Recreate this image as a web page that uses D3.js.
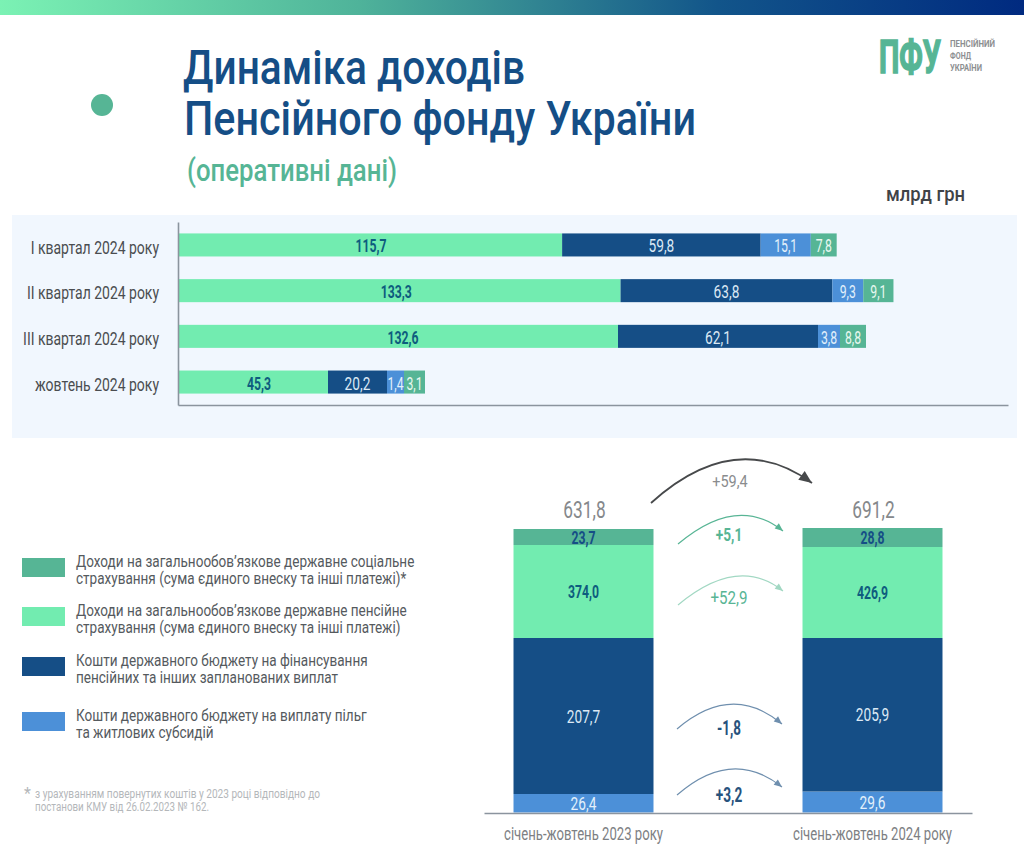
<!DOCTYPE html>
<html>
<head>
<meta charset="utf-8">
<script src="https://cdn.jsdelivr.net/npm/d3@7"></script>
<style>
  html, body { margin: 0; padding: 0; background: #fff; }
  svg { display: block; }
  text { font-family: "Roboto", sans-serif; }
  .domain { stroke: #8b949e; stroke-width: 1.6; }
</style>
</head>
<body>
<div id="chart"></div>
<script>
// values, bln UAH
var periods = ["I квартал 2024 року", "II квартал 2024 року", "III квартал 2024 року", "жовтень 2024 року"];
var periodPension = [115.7, 133.3, 132.6, 45.3];
var periodBudget = [59.8, 63.8, 62.1, 20.2];
var periodBenefits = [15.1, 9.3, 3.8, 1.4];
var periodSocial = [7.8, 9.1, 8.8, 3.1];

var columns = ["січень-жовтень 2023 року", "січень-жовтень 2024 року"];
var columnBenefits = [26.4, 29.6];
var columnBudget = [207.7, 205.9];
var columnPension = [374.0, 426.9];
var columnSocial = [23.7, 28.8];
var columnTotals = [631.8, 691.2];

var deltas = [59.4, 5.1, 52.9, -1.8, 3.2];

var legendLabels = [
  ["Доходи на загальнообов’язкове державне соціальне", "страхування (сума єдиного внеску та інші платежі)*"],
  ["Доходи на загальнообов’язкове державне пенсійне", "страхування (сума єдиного внеску та інші платежі)"],
  ["Кошти державного бюджету на фінансування", "пенсійних та інших запланованих виплат"],
  ["Кошти державного бюджету на виплату пільг", "та житлових субсидій"]
];

var colors = { pension: "#72ecb0", budget: "#154e86", benefits: "#4c90d8", social: "#56b595" };
var labelColors = { pension: "#0e5c7e", budget: "#dbe9f5", benefits: "#e3f0fb", social: "#e8f8f0" };

// the source does not draw these to scale: row 3 and 4 have widened small
// segments, the two columns are schematic. Breaks are the drawn segment edges.
var rowBreaks = [null, null, [178, 618, 818, 840, 866], [178, 328, 387, 404, 425]];
var columnBreaks = [[812.5, 794, 638, 545, 529], [812.5, 791.5, 638, 547, 528]];
var pensionLabelNudge = [1, -3, 5, 6];

var width = 1024, height = 858;
var fmt = d3.formatLocale({ decimal: ",", thousands: " ", grouping: [3], currency: ["", ""], minus: "-" });
var fmtValue = fmt.format(".1f"), fmtDelta = fmt.format("+.1f");

var svg = d3.select("#chart").append("svg").attr("width", width).attr("height", height);
var defs = svg.append("defs");

var grad = defs.append("linearGradient").attr("id", "topbar");
[["0%", "#7bf2b4"], ["35%", "#4fb39a"], ["70%", "#12558a"], ["100%", "#002a80"]].forEach(function (s) {
  grad.append("stop").attr("offset", s[0]).attr("stop-color", s[1]);
});
svg.append("rect").attr("width", width).attr("height", 15).attr("fill", "url(#topbar)");

// header
svg.append("circle").attr("cx", 102).attr("cy", 105).attr("r", 11).attr("fill", colors.social);

// the original face is condensed and no installed one is, so squeeze the glyphs
function condense(sel, k) {
  return sel.each(function () {
    d3.select(this).attr("textLength", this.getComputedTextLength() * (typeof k == "function" ? k.apply(this, arguments) : k))
      .attr("lengthAdjust", "spacingAndGlyphs");
  });
}
function fitText(sel, w) {
  return sel.attr("textLength", w).attr("lengthAdjust", "spacingAndGlyphs");
}
function title(txt, x, y, size, w, color, weight) {
  return fitText(svg.append("text").attr("x", x).attr("y", y).attr("font-size", size)
    .attr("font-weight", weight).attr("fill", color).text(txt), w);
}
// logo text goes through a transform so its box really ends at the drawn width
function logoText(txt, x, y, size, w, color) {
  var t = svg.append("text").attr("font-size", size).attr("font-weight", 700).attr("fill", color).text(txt);
  t.attr("transform", "translate(" + x + "," + y + ") scale(" + (w / t.node().getComputedTextLength()) + ",1)");
  return t;
}
title("Динаміка доходів", 183, 84, 48, 342, colors.budget, 500);
title("Пенсійного фонду України", 184, 135, 48, 512, colors.budget, 500);
title("(оперативні дані)", 187, 181, 31, 210, colors.social, 500);
title("млрд грн", 886, 201, 20, 79, "#3f4347", 500);

logoText("ПФУ", 879, 73, 46, 62, colors.social).attr("stroke", colors.social).attr("stroke-width", 1.6);
logoText("ПЕНСІЙНИЙ", 950, 47, 9, 45, "#8d8f91");
logoText("ФОНД", 950, 59, 9, 21, "#8d8f91");
logoText("УКРАЇНИ", 950, 71, 9, 32, "#8d8f91");

// horizontal stacked bars
svg.append("rect").attr("x", 12).attr("y", 215).attr("width", 1005).attr("height", 223).attr("fill", "#f1f7fe");

var keys = ["pension", "budget", "benefits", "social"];
var periodRows = periods.map(function (p, i) {
  return { period: p, pension: periodPension[i], budget: periodBudget[i], benefits: periodBenefits[i], social: periodSocial[i] };
});
var x = d3.scaleLinear().domain([0, 250]).range([178, 1008]);
var y = d3.scaleBand().domain(periods).range([222, 405]).paddingInner(0.496).paddingOuter(0.25);

function rowScale(i) {
  if (!rowBreaks[i]) return x;
  var r = periodRows[i], sum = 0, dom = [0];
  keys.forEach(function (k) { sum += r[k]; dom.push(sum); });
  return d3.scaleLinear().domain(dom).range(rowBreaks[i]);
}

var hStack = d3.stack().keys(keys)(periodRows);
var hLayer = svg.append("g").selectAll("g").data(hStack).enter().append("g");
hLayer.selectAll("rect").data(function (s) { return s.map(function (d, i) { return { d: d, i: i, key: s.key }; }); })
  .enter().append("rect")
  .attr("x", function (e) { return rowScale(e.i)(e.d[0]); })
  .attr("width", function (e) { return rowScale(e.i)(e.d[1]) - rowScale(e.i)(e.d[0]); })
  .attr("y", function (e) { return y(periods[e.i]); })
  .attr("height", y.bandwidth())
  .attr("fill", function (e) { return colors[e.key]; });
hLayer.selectAll("text").data(function (s) { return s.map(function (d, i) { return { d: d, i: i, key: s.key }; }); })
  .enter().append("text")
  .attr("x", function (e) {
    var mid = (rowScale(e.i)(e.d[0]) + rowScale(e.i)(e.d[1])) / 2;
    return e.key == "pension" ? mid + pensionLabelNudge[e.i] : mid;
  })
  .attr("y", function (e) { return y(periods[e.i]) + y.bandwidth() / 2 + 7.5; })
  .attr("text-anchor", "middle")
  .attr("font-size", 18)
  .attr("font-weight", function (e) { return e.key == "pension" ? 700 : 400; })
  .attr("fill", function (e) { return labelColors[e.key]; })
  .text(function (e) { return fmtValue(e.d[1] - e.d[0]); })
  .call(condense, function (e) { return e.key == "budget" ? 0.76 : 0.68; });

var yAxis = svg.append("g").attr("transform", "translate(178,0)")
  .call(d3.axisLeft(y).tickSize(0).tickPadding(19).tickSizeOuter(0));
yAxis.selectAll("text").attr("font-size", 18).attr("fill", "#4a4d50").attr("dy", ".48em").call(condense, 0.776);
svg.append("g").attr("transform", "translate(0,405)")
  .call(d3.axisBottom(x).tickValues([]).tickSizeOuter(0));

// legend
var legendY = [558, 607, 657, 712];
var legendKeys = ["social", "pension", "budget", "benefits"];
var legend = svg.append("g").selectAll("g").data(legendKeys).enter().append("g")
  .attr("transform", function (k, i) { return "translate(22," + legendY[i] + ")"; });
legend.append("rect").attr("width", 43).attr("height", 19).attr("fill", function (k) { return colors[k]; });
legend.each(function (k, i) {
  d3.select(this).selectAll("text").data(legendLabels[i]).enter().append("text")
    .attr("x", 54).attr("y", function (t, j) { return 9 + j * 17; })
    .attr("font-size", 16.5).attr("fill", "#555a5e").text(function (t) { return t; })
    .call(condense, 0.82);
});

// footnote
svg.append("text").attr("x", 24).attr("y", 799).attr("font-size", 16).attr("fill", "#b4b7ba").text("*");
title("з урахуванням повернутих коштів у 2023 році відповідно до", 35, 798, 12.5, 285, "#b4b7ba", 400);
title("постанови КМУ від 26.02.2023 № 162.", 35, 811, 12.5, 174, "#b4b7ba", 400);

// two columns
var stackKeys = ["benefits", "budget", "pension", "social"];
var columnRows = columns.map(function (c, i) {
  return { column: c, benefits: columnBenefits[i], budget: columnBudget[i], pension: columnPension[i], social: columnSocial[i] };
});
var cx = d3.scaleBand().domain(columns).range([484, 972]).paddingInner(0.5156).paddingOuter(0.1021);
var columnY = columnRows.map(function (r, i) {
  var sum = 0, dom = [0];
  stackKeys.forEach(function (k) { sum += r[k]; dom.push(sum); });
  return d3.scaleLinear().domain(dom).range(columnBreaks[i]);
});

var vStack = d3.stack().keys(stackKeys)(columnRows);
var vLayer = svg.append("g").selectAll("g").data(vStack).enter().append("g");
vLayer.selectAll("rect").data(function (s) { return s.map(function (d, i) { return { d: d, i: i, key: s.key }; }); })
  .enter().append("rect")
  .attr("x", function (e) { return cx(columns[e.i]); })
  .attr("width", cx.bandwidth())
  .attr("y", function (e) { return columnY[e.i](e.d[1]); })
  .attr("height", function (e) { return columnY[e.i](e.d[0]) - columnY[e.i](e.d[1]); })
  .attr("fill", function (e) { return colors[e.key]; });
vLayer.selectAll("text").data(function (s) { return s.map(function (d, i) { return { d: d, i: i, key: s.key }; }); })
  .enter().append("text")
  .attr("x", function (e) { return cx(columns[e.i]) + cx.bandwidth() / 2; })
  .attr("y", function (e) { return (columnY[e.i](e.d[0]) + columnY[e.i](e.d[1])) / 2 + 6.5; })
  .attr("text-anchor", "middle")
  .attr("font-size", 18)
  .attr("font-weight", function (e) { return e.key == "pension" || e.key == "social" ? 700 : 400; })
  .attr("fill", function (e) { return e.key == "social" ? colors.budget : labelColors[e.key]; })
  .text(function (e) { return fmtValue(e.d[1] - e.d[0]); })
  .call(condense, function (e) { return e.key == "pension" || e.key == "social" ? 0.68 : 0.76; });

svg.append("g").selectAll("text").data(columnTotals).enter().append("text")
  .attr("x", function (t, i) { return cx(columns[i]) + cx.bandwidth() / 2 + 1; })
  .attr("y", 518).attr("text-anchor", "middle").attr("font-size", 24).attr("fill", "#85888b")
  .text(function (t) { return fmtValue(t); })
  .call(condense, 0.72);

var cAxis = svg.append("g").attr("transform", "translate(0,813)")
  .call(d3.axisBottom(cx).tickSize(0).tickPadding(15).tickSizeOuter(0));
cAxis.selectAll("text").attr("font-size", 17.5).attr("fill", "#7d8083").call(condense, 0.75);

// change arrows between the columns
var arrowColors = ["#47494b", "#58b595", "#a2d8c3", "#6f8fae", "#6f8fae"];
var deltaColors = ["#8a8c8e", "#58b595", "#58b595", "#27527c", "#27527c"];
var deltaWeights = [400, 700, 400, 700, 700];
var deltaSizes = [17, 19, 18, 21, 21];
var deltaSqueeze = [0.85, 0.72, 0.84, 0.64, 0.65];
var arrowPaths = [
  { from: [651, 503], ctrl: [735, 427], to: [812, 483], head: 13 },
  { from: [678, 544], ctrl: [737, 494], to: [783, 531], head: 8 },
  { from: [678, 605], ctrl: [738, 555], to: [783, 591], head: 8 },
  { from: [677, 729], ctrl: [732, 682], to: [782, 724], head: 8 },
  { from: [677, 795], ctrl: [732, 747], to: [782, 787], head: 8 }
];
var deltaLabelPos = [[730, 487], [729, 541], [729, 604], [729, 735], [729, 802]];

arrowPaths.forEach(function (a, i) {
  var p = d3.path();
  p.moveTo(a.from[0], a.from[1]);
  p.quadraticCurveTo(a.ctrl[0], a.ctrl[1], a.to[0], a.to[1]);
  svg.append("path").attr("d", p.toString()).attr("fill", "none")
    .attr("stroke", arrowColors[i]).attr("stroke-width", i == 0 ? 1.8 : 1.2);
  var ang = Math.atan2(a.to[1] - a.ctrl[1], a.to[0] - a.ctrl[0]) * 180 / Math.PI;
  svg.append("path")
    .attr("d", d3.line()([[0, 0], [-a.head, -a.head * 0.42], [-a.head, a.head * 0.42]]) + "Z")
    .attr("transform", "translate(" + a.to[0] + "," + a.to[1] + ") rotate(" + ang + ")")
    .attr("fill", arrowColors[i]);
  svg.append("text").attr("x", deltaLabelPos[i][0]).attr("y", deltaLabelPos[i][1])
    .attr("text-anchor", "middle").attr("font-size", deltaSizes[i])
    .attr("font-weight", deltaWeights[i]).attr("fill", deltaColors[i])
    .text(fmtDelta(deltas[i]))
    .call(condense, deltaSqueeze[i]);
});
</script>
</body>
</html>
